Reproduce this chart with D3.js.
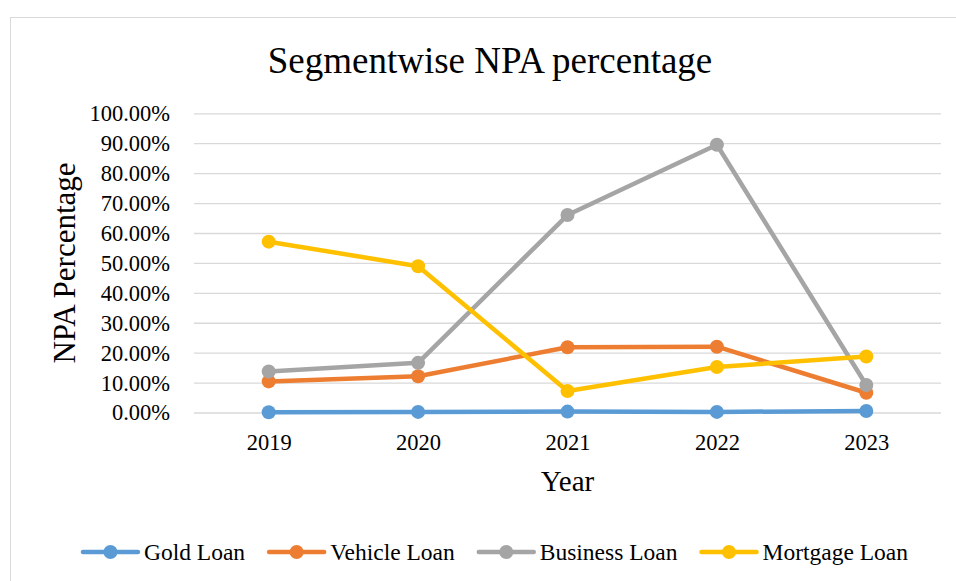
<!DOCTYPE html>
<html>
<head>
<meta charset="utf-8">
<script src="https://cdn.jsdelivr.net/npm/d3@7"></script>
<style>
  html, body { margin: 0; padding: 0; background: #fff; }
  svg { display: block; font-family: "Liberation Serif", "Times New Roman", serif; }
</style>
</head>
<body>
<svg id="chart" width="956" height="581"></svg>
<script>
// Segment-wise NPA percentages by year (fractions of 1)
const years = ["2019", "2020", "2021", "2022", "2023"];
const goldLoan     = [0.001, 0.002, 0.003, 0.002, 0.005];
const vehicleLoan  = [0.104, 0.121, 0.218, 0.220, 0.066];
const businessLoan = [0.137, 0.166, 0.660, 0.895, 0.092];
const mortgageLoan = [0.571, 0.489, 0.072, 0.152, 0.187];
const seriesNames  = ["Gold Loan", "Vehicle Loan", "Business Loan", "Mortgage Loan"];
const seriesColors = ["#5B9BD5", "#ED7D31", "#A5A5A5", "#FFC000"];
const yTicks = [0, 0.1, 0.2, 0.3, 0.4, 0.5, 0.6, 0.7, 0.8, 0.9, 1.0];

const series = [goldLoan, vehicleLoan, businessLoan, mortgageLoan].map((vals, i) => ({
  name: seriesNames[i],
  color: seriesColors[i],
  values: vals.map((v, j) => ({ year: years[j], value: v }))
}));

const svg = d3.select("#chart");
const W = 956, H = 581;
const plot = { left: 194, right: 941, top: 113.3, bottom: 412.5 };

svg.append("rect").attr("width", W).attr("height", H).attr("fill", "#fff");
// chart area frame
svg.append("rect")
  .attr("x", 10.5).attr("y", 17.5)
  .attr("width", W).attr("height", H)
  .attr("fill", "none").attr("stroke", "#D9D9D9").attr("stroke-width", 1);

const x = d3.scalePoint().domain(years).range([plot.left, plot.right]).padding(0.5);
const y = d3.scaleLinear().domain([0, 1]).range([plot.bottom, plot.top]);

// horizontal gridlines
const grid = svg.append("g")
  .attr("transform", `translate(${plot.left},0)`)
  .call(d3.axisLeft(y).tickValues(yTicks).tickSize(-(plot.right - plot.left)).tickFormat(""));
grid.select(".domain").remove();
grid.selectAll(".tick line").attr("stroke", "#D9D9D9").attr("stroke-width", 1.3);

// y-axis labels
const yAxis = svg.append("g")
  .attr("transform", `translate(${plot.left},0)`)
  .call(d3.axisLeft(y).tickValues(yTicks).tickSize(0).tickPadding(24).tickFormat(d3.format(".2%")))
  .attr("font-family", null).attr("font-size", 22.5);
yAxis.select(".domain").remove();
yAxis.selectAll("text").attr("fill", "#000").attr("dy", "0.33em");

// x-axis labels
const xAxis = svg.append("g")
  .attr("transform", `translate(0,${plot.bottom})`)
  .call(d3.axisBottom(x).tickSize(0).tickPadding(22))
  .attr("font-family", null).attr("font-size", 22.5);
xAxis.select(".domain").remove();
xAxis.selectAll("text").attr("fill", "#000");

// titles
svg.append("text")
  .attr("x", 490).attr("y", 73)
  .attr("text-anchor", "middle").attr("font-size", 37)
  .text("Segmentwise NPA percentage");
svg.append("text")
  .attr("x", (plot.left + plot.right) / 2).attr("y", 491)
  .attr("text-anchor", "middle").attr("font-size", 29)
  .text("Year");
svg.append("text")
  .attr("transform", `translate(75,${263}) rotate(-90)`)
  .attr("text-anchor", "middle").attr("font-size", 31)
  .text("NPA Percentage");

// series lines and markers
const line = d3.line().x(d => x(d.year)).y(d => y(d.value));
const sg = svg.append("g").selectAll("g").data(series).join("g");
sg.append("path")
  .attr("d", d => line(d.values))
  .attr("fill", "none")
  .attr("stroke", d => d.color)
  .attr("stroke-width", 4.5)
  .attr("stroke-linejoin", "round")
  .attr("stroke-linecap", "round");
sg.selectAll("circle")
  .data(d => d.values.map(v => ({ ...v, color: d.color })))
  .join("circle")
  .attr("cx", d => x(d.year))
  .attr("cy", d => y(d.value))
  .attr("r", 7)
  .attr("fill", d => d.color);

// legend
const legend = svg.append("g");
const lineLen = 55, textGap = 6, itemGap = 24, legendY = 552, legendCenter = 495.5;
const items = legend.selectAll("g").data(series).join("g");
items.append("text")
  .attr("font-size", 23.5)
  .attr("y", legendY + 8)
  .text(d => d.name);
const widths = [];
items.select("text").each(function () { widths.push(this.getComputedTextLength()); });
const total = d3.sum(widths) + series.length * (lineLen + textGap) + (series.length - 1) * itemGap;
let cursor = legendCenter - total / 2;
items.each(function (d, i) {
  const g = d3.select(this);
  const x0 = cursor;
  g.insert("line", "text")
    .attr("x1", x0).attr("x2", x0 + lineLen)
    .attr("y1", legendY).attr("y2", legendY)
    .attr("stroke", d.color).attr("stroke-width", 4.5)
    .attr("stroke-linecap", "round");
  g.insert("circle", "text")
    .attr("cx", x0 + lineLen / 2).attr("cy", legendY).attr("r", 7)
    .attr("fill", d.color);
  g.select("text").attr("x", x0 + lineLen + textGap);
  cursor += lineLen + textGap + widths[i] + itemGap;
});
</script>
</body>
</html>
